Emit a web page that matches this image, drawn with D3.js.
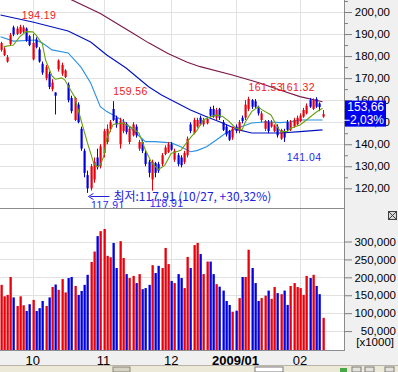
<!DOCTYPE html>
<html><head><meta charset="utf-8">
<script src="https://cdn.jsdelivr.net/npm/d3@7"></script>
<style>body{margin:0;background:#fff}svg{display:block}</style>
</head><body>
<svg id="c" width="398" height="372"></svg>
<script>
// ---------------- DATA ----------------
const openP  = [182.8,180.5,177.5,185.5,193,190,190.5,191,192.5,189,
  178.5,187.5,183,176.5,170,172,165,163.5,174,172,
  170.5,167,161,151,158,147,137,126,120,124,
  134,130,136,141,147,156,152,140,146,149,
  141,144,148,138,141,136,132,124,131.5,131,
  131,135.5,136.5,140,133,135,134,132,135,149,
  145,148,152,149,149.5,156,156,152,156,150,
  148,146,143,148,146,152,152,156,160,159.5,
  157,151,147,150,148,146,148,142.5,146,150,
  146.5,148,149,150.5,152.5,154,160,156,160.5,158.5,152.5];
const highP  = [186.5,184,180.5,190.5,193.8,193.5,194.19,194,193,189.5,
  190,188.5,184,177.5,176,173,169.5,163.5,178.5,177,
  174,168,162,161.5,159,148,138,128,131,134,
  138,140,147,149,151,159.56,153,152,151.5,150,
  148,150,149,142,142,137,133,133,132,132,
  136,139.5,141,141,138,136,135,137,143.5,150,
  152,152,153,152,152.5,157,157.5,156.5,156.5,151,
  149,146.5,148,149,151,153,160,161.53,160.5,160.5,
  157.5,155,151,151,151,149,149,147,147,151,
  151,152,153,154,156.5,158.5,161,160.8,161.32,159,155.5];
const lowP   = [182,180,177,185,189,189.5,190,190.5,186.5,184.5,
  178,183.5,177,171.5,169,165,164,153.5,173,171,
  170,159,154,150.5,149.5,137,125,117.91,119,122.5,
  128.5,129,134,140,145.5,150.5,147.5,138,145,144.5,
  140,143.5,143,137,136,130,125,118.91,125,127,
  130,135,136,137,132,130,129.5,131,134,145,
  144.5,147.5,148.5,148,149,152.5,152,151,151,146,
  143.5,141.5,142,145,145,149.5,151,155,156,156.5,
  153,150,146,145,147.5,145.5,143,142,141.04,146,
  146,147.5,148.5,150,152,153.5,156.5,155.5,156.5,155,152];
const closeP = [185.9,183,179.5,189.5,189.8,192.5,193.2,193,187,185,
  186,184,177.5,172.5,175,166,168,162,178,176,
  173.5,160,155,161,150,138,127,120,130,132,
  129.5,139,146,147,150,151,149,150.5,150,145.5,
  147,149,144,141,137,131,127,132,127,128,
  135,138.5,140,137.5,137,131,130.5,136,142.5,146,
  151,151,149,151,151.5,153,152.5,155.5,152,146.5,
  144.5,142,147,146,150,150.5,158,160.5,157,157,
  154,154,150.5,146,150,148.5,144,146.5,143,146.5,
  150,151,152,153,155.5,157.5,157,160,157,156.84,153.66];
const volume = [179000,147000,151000,201000,144000,120000,147000,122000,106000,125000,
  137000,106000,114000,134000,120000,144000,173000,180000,165000,195000,
  158000,198000,201000,176000,151000,162000,179000,207000,243000,272000,
  315000,329000,335000,260000,256000,296000,226000,301000,254000,209000,
  198000,204000,184000,209000,167000,170000,179000,234000,212000,232000,
  226000,282000,237000,190000,184000,209000,198000,170000,257000,226000,
  290000,296000,265000,209000,244000,244000,209000,181000,174000,163000,
  134000,123000,104000,107000,142000,201000,201000,277000,226000,184000,
  134000,142000,149000,163000,140000,173000,156000,153000,163000,123000,
  176000,184000,173000,170000,151000,204000,198000,207000,176000,153000,87000];

// moving averages: [bar index, value]
const ma5Idx  = [1,4,6,8,10,11,13,14,16,17,19,20,21,23,25,27,29,30,31,32,33,35,38,41,43,45,47,49,51,53,56,59,61,63,65,67,69,71,73,75,76,78,80,81,84,86,87,89,90,93,95,98,100];
const ma5Val  = [184.3,185,188.8,191.1,191,189.6,185.5,178.2,171,169.5,170.1,169.1,166.5,161.6,151,140.6,131.2,129.8,130.6,134.3,142.5,149,149.6,147.4,145.1,137.4,131.5,128.5,130.4,135.8,137.2,143,146.3,151,152.3,153.3,152.6,150.4,147.4,146.5,150,154.8,157,155.8,153.3,147.8,145.7,145.7,147.2,148.7,151,154.5,156.3];
const ma20Idx = [0,4,11,13,16,21,25,28,31,33,36,39,42,45,48,53,56,59,61,64,67,70,75,78,83,87,90,93,100];
const ma20Val = [188.8,186.8,187.3,185.9,182.8,181.4,175,167.8,157,154.8,152.5,149.6,145.1,141.2,141.2,140.6,138.9,136.6,137.1,138.9,141.9,145.1,148,149.6,150.2,149.8,150.2,151,151];
const ma60Idx = [0,10,21,28,33,39,46,50,53,59,64,68,74,78,87,93,100];
const ma60Val = [198.6,195.5,191.4,186.4,180.5,174.6,166.1,162.3,160.1,155.5,152.5,150.2,146.5,145.1,145.1,145.7,146.5];
const ma120Idx = [18,22,31,41,46,52,58,62,72,80,87,93,100];
const ma120Val = [208.5,205.6,199.3,190.5,186,181.2,177.2,175.2,171.4,168,164.5,161.6,159.3];

const monthIdx    = [10,32,53,73,93];
const monthLabels = ["10","11","12","2009/01","02"];
const priceTicks  = [120,130,140,150,160,170,180,190,200];
const priceMinor  = [125,135,145,155,165,175,185,195,205];
const volTicks    = [50000,100000,150000,200000,250000,300000];

// marked highs / lows: [bar index, kind]
const markIdx  = [6,35,77,98,88,27,47];
const markKind = ["hi","hi","hi","hiR","lo","lo2","lo2"];
const lowestIdx = 27, lowestDate = "10/27";

// ---------------- LAYOUT ----------------
const W=398,H=372,R=344,PB=208,VT=209,VB=350;
const RED="#e8000a", BLUE="#0000e0";
const FONT="'Liberation Sans', Arial, sans-serif";
const svg=d3.select("#c");
const n=closeP.length;
const x=d3.scaleLinear().domain([0,100]).range([0.5,322.5]);
const yP=d3.scaleLinear().domain([120,200]).range([188.3,12]);
const yV=d3.scaleLinear().domain([0,300000]).range([349,241.5]);

svg.append("rect").attr("width",W).attr("height",H).attr("fill","#f0f0f0");
svg.append("rect").attr("x",0).attr("y",0).attr("width",R).attr("height",PB).attr("fill","#fff");
svg.append("rect").attr("x",0).attr("y",VT).attr("width",R).attr("height",VB-VT).attr("fill","#fff");

const defs=svg.append("defs");
defs.append("clipPath").attr("id","cp").append("rect").attr("x",0).attr("y",0).attr("width",R).attr("height",PB);
defs.append("clipPath").attr("id","cv").append("rect").attr("x",0).attr("y",VT).attr("width",R).attr("height",VB-VT);

const GRID="#e2e2e2";
const gP=svg.append("g").attr("clip-path","url(#cp)");
const gV=svg.append("g").attr("clip-path","url(#cv)");
const px=v=>Math.round(v)+0.5;

// grid
gP.selectAll("line.h").data(priceTicks).join("line").attr("x1",0).attr("x2",R)
  .attr("y1",d=>px(yP(d))).attr("y2",d=>px(yP(d))).attr("stroke",GRID);
gP.selectAll("line.v").data(monthIdx).join("line").attr("y1",0).attr("y2",PB)
  .attr("x1",d=>px(x(d))).attr("x2",d=>px(x(d))).attr("stroke",GRID);
gV.selectAll("line.h").data(volTicks).join("line").attr("x1",0).attr("x2",R)
  .attr("y1",d=>px(yV(d))).attr("y2",d=>px(yV(d))).attr("stroke",GRID);
gV.selectAll("line.v").data(monthIdx).join("line").attr("y1",VT).attr("y2",VB)
  .attr("x1",d=>px(x(d))).attr("x2",d=>px(x(d))).attr("stroke",GRID);

// MA lines
function maLine(idx,val,color){
  const pts=idx.map((d,i)=>[x(d),yP(val[i])]);
  gP.append("path").attr("d",d3.line()(pts)).attr("fill","none").attr("stroke",color).attr("stroke-width",1.1);
}
maLine(ma120Idx,ma120Val,"#7a1848");
maLine(ma60Idx,ma60Val,"#0010c0");
maLine(ma20Idx,ma20Val,"#2a90e0");

// candles
const idx=d3.range(n);
const col=i=>closeP[i]>=openP[i]?RED:BLUE;
gP.selectAll("line.w").data(idx).join("line")
  .attr("x1",i=>Math.round(x(i))+0.5).attr("x2",i=>Math.round(x(i))+0.5)
  .attr("y1",i=>yP(highP[i])).attr("y2",i=>yP(lowP[i])).attr("stroke",col).attr("stroke-width",1);
gP.selectAll("rect.b").data(idx).join("rect")
  .attr("x",i=>Math.round(x(i))-0.5).attr("width",2.2)
  .attr("y",i=>yP(Math.max(openP[i],closeP[i])))
  .attr("height",i=>Math.max(1,Math.abs(yP(openP[i])-yP(closeP[i]))))
  .attr("fill",col);

maLine(ma5Idx,ma5Val,"#6aa010");

// volume bars
gV.selectAll("rect.v").data(idx).join("rect")
  .attr("x",i=>Math.round(x(i))-0.5).attr("width",2.3)
  .attr("y",i=>yV(volume[i])).attr("height",i=>VB-yV(volume[i]))
  .attr("fill",col);

// annotations
const fmt2=d3.format(".2f");
const ann=gP.append("g").attr("font-family",FONT).attr("font-size",10.5).attr("letter-spacing",0.4);
markIdx.forEach((k,j)=>{
  const kind=markKind[j];
  let tx,ty,anchor="start",color,val;
  if(kind==="hi"||kind==="hiR"){val=highP[k];color="#f01818";ty=yP(val)-6;}
  else {val=lowP[k];color="#2828f0";ty=yP(val)+(kind==="lo"?19:16);}
  if(kind==="hi"){tx=x(k)+(k<10?2:0);}
  else if(kind==="hiR"){tx=x(k)-1;anchor="end";}
  else if(kind==="lo"){tx=x(k)+3;}
  else {tx=x(k)+(k<30?3.5:-2);}
  ann.append("text").attr("x",tx).attr("y",ty).attr("text-anchor",anchor).attr("fill",color).text(fmt2(val));
});
// lowest-point note
const lowVal=lowP[lowestIdx], lastC=closeP[n-1];
const pct=((lastC/lowVal-1)*100);
const ax=x(lowestIdx)+1, ay=196.5;
const note=gP.append("g");
note.append("line").attr("x1",ax+2).attr("x2",ax+21).attr("y1",ay).attr("y2",ay).attr("stroke","#2020e0");
note.append("path").attr("d",`M${ax},${ay} l5,-3 M${ax},${ay} l5,3`).attr("stroke","#2020e0").attr("fill","none");
note.append("text").attr("x",ax+25).attr("y",ay+4.5).attr("font-family","'Noto Sans CJK KR',"+FONT)
  .attr("font-size",12).attr("fill","#2020e0")
  .text("최저:"+fmt2(lowVal)+" ("+lowestDate+", +"+fmt2(pct).replace(".",",")+"%)");

// panel borders
svg.append("line").attr("x1",0).attr("x2",R).attr("y1",PB+0.5).attr("y2",PB+0.5).attr("stroke","#8c8c8c");
svg.append("line").attr("x1",0).attr("x2",R+1).attr("y1",VB+0.5).attr("y2",VB+0.5).attr("stroke","#8c8c8c");
svg.append("line").attr("x1",R+0.5).attr("x2",R+0.5).attr("y1",0).attr("y2",VB).attr("stroke","#8c8c8c");

// price axis
const fmtP=d=>fmt2(d).replace(".",",");
const aP=svg.append("g").attr("transform",`translate(${R},0)`)
  .call(d3.axisRight(yP).tickValues(priceTicks).tickSize(8).tickFormat(fmtP));
const aPm=svg.append("g").attr("transform",`translate(${R},0)`)
  .call(d3.axisRight(yP).tickValues(priceMinor).tickSize(4).tickFormat(""));
[aP,aPm].forEach(g=>{g.select(".domain").remove();g.selectAll("line").attr("stroke","#808080");});
aP.selectAll("text").attr("x",46).attr("text-anchor","end").attr("font-family",FONT).attr("font-size",11.5).attr("fill","#000");

// volume axis
const aV=svg.append("g").attr("transform",`translate(${R},0)`)
  .call(d3.axisRight(yV).tickValues(volTicks).tickSize(8).tickFormat(d3.format(",")));
aV.select(".domain").remove();aV.selectAll("line").attr("stroke","#808080");
aV.selectAll("text").attr("x",52).attr("text-anchor","end").attr("font-family",FONT).attr("font-size",11.5).attr("fill","#000");
svg.append("text").attr("x",394).attr("y",346).attr("text-anchor","end").attr("font-family",FONT).attr("font-size",11.5).text("[x1000]");

// close button
svg.append("rect").attr("x",388.5).attr("y",211.5).attr("width",8).attr("height",8).attr("fill","#d8d8d8").attr("stroke","#404040");
svg.append("path").attr("d","M389,212 L396,219 M396,212 L389,219").attr("stroke","#404040");

// current price box
const prevC=closeP[n-2], chg=(lastC/prevC-1)*100;
const by=yP(lastC)-13.5;
svg.append("rect").attr("x",345).attr("y",by).attr("width",41).attr("height",26).attr("fill","#0000f0");
svg.append("text").attr("x",384).attr("y",by+10.5).attr("text-anchor","end").attr("font-family",FONT).attr("font-size",12).attr("fill","#fff").text(fmtP(lastC));
svg.append("text").attr("x",384).attr("y",by+23).attr("text-anchor","end").attr("font-family",FONT).attr("font-size",12).attr("fill","#fff").text(fmt2(chg).replace(".",",")+"%");

// x-axis labels
svg.selectAll("text.m").data(monthIdx).join("text").attr("x",d=>x(d)).attr("y",364.5)
  .attr("text-anchor","middle").attr("font-family",FONT).attr("font-size",13)
  .attr("font-weight",(d,i)=>monthLabels[i].length>3?"bold":"normal")
  .text((d,i)=>monthLabels[i]);

// bottom toolbar strip
svg.append("rect").attr("x",0).attr("y",366).attr("width",W).attr("height",6).attr("fill","#ece9d8");
svg.append("line").attr("x1",0).attr("x2",W).attr("y1",365.5).attr("y2",365.5).attr("stroke","#b8b4a8");
svg.append("rect").attr("x",113).attr("y",367).attr("width",17).attr("height",5).attr("fill","#d6d2c2").attr("stroke","#8a8678");
svg.append("rect").attr("x",255).attr("y",367).attr("width",28).attr("height",5).attr("fill","#fff").attr("stroke","#7a7a7a");
svg.append("rect").attr("x",340).attr("y",368).attr("width",7).attr("height",4).attr("fill","#48a848");
[352,365,385].forEach(v=>svg.append("rect").attr("x",v).attr("y",367).attr("width",9).attr("height",5).attr("fill","#e4e2da").attr("stroke","#7a7a7a"));
</script>
</body></html>
